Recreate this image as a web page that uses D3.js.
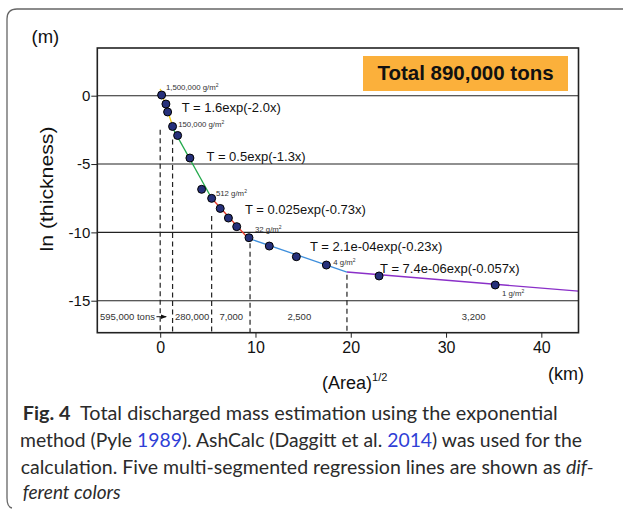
<!DOCTYPE html>
<html>
<head>
<meta charset="utf-8">
<script src="https://cdn.jsdelivr.net/npm/d3@7"></script>
<style>
  body { margin: 0; background: #fff; }
  svg { display: block; }
  .axis text { font-family: "Liberation Sans", Arial, sans-serif; fill: #111; }
  .axis line { stroke: #222; stroke-width: 1; }
</style>
</head>
<body>
<div id="chart"></div>
<script>
// sampled points, (Area)^1/2 in km vs ln(thickness in m)
var sqrtArea = [0.15, 0.6, 0.78, 1.3, 1.83, 3.12, 4.35, 5.4, 6.3, 7.16, 8.03, 9.32, 11.45, 14.29, 17.44, 22.97, 35.16];
var lnThick  = [0.05, -0.61, -1.19, -2.25, -2.91, -4.56, -6.85, -7.51, -8.25, -8.95, -9.58, -10.39, -11.0, -11.78, -12.39, -13.19, -13.85];

// regression segments (end points)
var segNames = ["T = 1.6exp(-2.0x)", "T = 0.5exp(-1.3x)", "T = 0.025exp(-0.73x)", "T = 2.1e-04exp(-0.23x)", "T = 7.4e-06exp(-0.057x)"];
var segX0 = [0, 1.3, 5.4, 9.32, 19.6];
var segX1 = [1.3, 5.4, 9.32, 19.6, 43.9];
var segY0 = [0.5, -2.35, -7.5, -10.45, -12.9];
var segY1 = [-2.2, -7.5, -10.5, -12.9, -14.3];
var segColors = ["#f2cd13", "#22a94b", "#e63a2c", "#3f8fdc", "#8a2fc8"];
// where each equation label sits (data units)
var eqX = [2.25, 4.87, 8.9, 15.72, 23.08];
var eqY = [-1.16, -4.78, -8.65, -11.36, -12.95];

// isopach breaks (dashed verticals) and where they start
var breakX = [0, 1.3, 5.4, 9.43, 19.6];
var breakTop = [-2.5, -3.2, -8.8, -10.8, -13.1];

// mass in each zone
var massLabels = ["595,000 tons", "280,000", "7,000", "2,500", "3,200"];
var massX = [-0.55, 3.36, 7.46, 14.6, 32.9];

// thickness annotations on points
var ptLabelIdx = [0, 3, 7, 11, 14, 16];
var ptLabels = ["1,500,000", "150,000", "512", "32", "4", "1"];
var ptLabelOff = [[4.3, -5.5], [5.6, 0.5], [4.3, -2.8], [6, -5.7], [7, -0.5], [6.7, 11.5]];

var xTicks = [0, 10, 20, 30, 40];
var yTicks = [0, -5, -10, -15];

var W = 626, H = 511;
var margin = {top: 48, right: 47.5, bottom: 178.3, left: 97.3},
    width = W - margin.left - margin.right,
    height = H - margin.top - margin.bottom;

var svg = d3.select("#chart").append("svg")
    .attr("width", W)
    .attr("height", H);

// outer figure frame
svg.append("path")
   .attr("d", "M623,9 L17,9 Q7,9 7,19 L7,498 Q7,507 12,508")
   .attr("fill", "none")
   .attr("stroke", "#666")
   .attr("stroke-width", 1.3);

var xScale = d3.scaleLinear().domain([-6.6, 43.9]).range([0, width]),
    yScale = d3.scaleLinear().domain([-17.34, 3.49]).range([height, 0]);

var g = svg.append("g")
    .attr("transform", "translate(" + margin.left + "," + margin.top + ")");

// horizontal grid lines
g.selectAll(".grid")
  .data(yTicks)
  .enter().append("line")
    .attr("x1", 0).attr("x2", width)
    .attr("y1", function (d) { return yScale(d); })
    .attr("y2", function (d) { return yScale(d); })
    .attr("stroke", "#222")
    .attr("stroke-width", 1.1);

// dashed break lines
g.selectAll(".brk")
  .data(breakX)
  .enter().append("line")
    .attr("x1", function (d) { return xScale(d); })
    .attr("x2", function (d) { return xScale(d); })
    .attr("y1", function (d, i) { return yScale(breakTop[i]); })
    .attr("y2", height)
    .attr("stroke", "#222")
    .attr("stroke-width", 1.2)
    .attr("stroke-dasharray", "5,3.5");

// regression segments
g.selectAll(".seg")
  .data(segNames)
  .enter().append("line")
    .attr("x1", function (d, i) { return xScale(segX0[i]); })
    .attr("y1", function (d, i) { return yScale(segY0[i]); })
    .attr("x2", function (d, i) { return xScale(segX1[i]); })
    .attr("y2", function (d, i) { return yScale(segY1[i]); })
    .attr("stroke", function (d, i) { return segColors[i]; })
    .attr("stroke-width", 1.3);

// points
g.selectAll(".pt")
  .data(sqrtArea)
  .enter().append("circle")
    .attr("cx", function (d) { return xScale(d); })
    .attr("cy", function (d, i) { return yScale(lnThick[i]); })
    .attr("r", 4)
    .attr("fill", "#26307a")
    .attr("stroke", "#000")
    .attr("stroke-width", 1);

// equation labels
g.selectAll(".eq")
  .data(segNames)
  .enter().append("text")
    .attr("x", function (d, i) { return xScale(eqX[i]); })
    .attr("y", function (d, i) { return yScale(eqY[i]); })
    .style("font-family", "'Liberation Sans', Arial, sans-serif")
    .style("font-size", "13px")
    .style("fill", "#111")
    .text(function (d) { return d; });

// g/m2 labels
var pl = g.selectAll(".pl")
  .data(ptLabels)
  .enter().append("text")
    .attr("x", function (d, i) { return xScale(sqrtArea[ptLabelIdx[i]]) + ptLabelOff[i][0]; })
    .attr("y", function (d, i) { return yScale(lnThick[ptLabelIdx[i]]) + ptLabelOff[i][1]; })
    .style("font-family", "'Liberation Sans', Arial, sans-serif")
    .style("font-size", "7.8px")
    .style("fill", "#333");
pl.append("tspan").text(function (d) { return d + " g/m"; });
pl.append("tspan").attr("dy", -3).style("font-size", "5px").text("2");

// mass strip labels
var stripY = (yScale(-15) + height) / 2;
g.selectAll(".mass")
  .data(massLabels)
  .enter().append("text")
    .attr("x", function (d, i) { return xScale(massX[i]); })
    .attr("y", stripY)
    .attr("dy", "0.35em")
    .attr("text-anchor", function (d, i) { return i === 0 ? "end" : "middle"; })
    .style("font-family", "'Liberation Sans', Arial, sans-serif")
    .style("font-size", "9.5px")
    .style("fill", "#333")
    .text(function (d) { return d; });

svg.append("defs").append("marker")
   .attr("id", "arr")
   .attr("viewBox", "0 0 10 10")
   .attr("refX", 9).attr("refY", 5)
   .attr("markerWidth", 6).attr("markerHeight", 6)
   .attr("orient", "auto")
 .append("path")
   .attr("d", "M0,1 L10,5 L0,9 Z")
   .attr("fill", "#111");

g.append("line")
  .attr("x1", xScale(massX[0]) + 1.5)
  .attr("x2", xScale(0) + 6)
  .attr("y1", stripY).attr("y2", stripY)
  .attr("stroke", "#111")
  .attr("stroke-width", 1)
  .attr("marker-end", "url(#arr)");

// axes
var yAxis = d3.axisLeft(yScale).tickValues(yTicks).tickSize(6).tickPadding(1)
    .tickFormat(function (d) { return String(d); });
g.append("g")
  .attr("class", "axis")
  .call(yAxis)
  .call(function (a) { a.select(".domain").remove(); })
  .selectAll("text").style("font-size", "15px");

var xAxis = d3.axisBottom(xScale).tickValues(xTicks).tickSize(5).tickPadding(3.6);
g.append("g")
  .attr("class", "axis")
  .attr("transform", "translate(0," + height + ")")
  .call(xAxis)
  .call(function (a) { a.select(".domain").remove(); })
  .selectAll("text").style("font-size", "16px");

// plot frame
g.append("rect")
  .attr("width", width).attr("height", height)
  .attr("fill", "none")
  .attr("stroke", "#222")
  .attr("stroke-width", 1.6);

// total box
g.append("rect")
  .attr("x", 363 - margin.left).attr("y", 56 - margin.top)
  .attr("width", 205).attr("height", 35)
  .attr("fill", "#fbb03b");
g.append("text")
  .attr("x", 465.5 - margin.left).attr("y", 80 - margin.top)
  .attr("text-anchor", "middle")
  .style("font-family", "'Liberation Sans', Arial, sans-serif")
  .style("font-weight", "bold")
  .style("font-size", "20.5px")
  .style("fill", "#111")
  .text("Total 890,000 tons");

// axis titles
var lab = "'Liberation Sans', Arial, sans-serif";
svg.append("text")
  .attr("x", 31.5).attr("y", 42.5)
  .style("font-family", lab).style("font-size", "18.5px").style("fill", "#111")
  .text("(m)");
svg.append("text")
  .attr("transform", "translate(53.3,189) rotate(-90)")
  .attr("text-anchor", "middle")
  .attr("textLength", 125).attr("lengthAdjust", "spacingAndGlyphs")
  .style("font-family", lab).style("font-size", "18px").style("fill", "#111")
  .text("ln (thickness)");
var xt = svg.append("text")
  .attr("x", 322).attr("y", 389)
  .style("font-family", lab).style("font-size", "18px").style("fill", "#111");
xt.append("tspan").text("(Area)");
xt.append("tspan").attr("dy", -8).style("font-size", "11px").text("1/2");
svg.append("text")
  .attr("x", 548).attr("y", 380)
  .style("font-family", lab).style("font-size", "18px").style("fill", "#111")
  .text("(km)");

// caption
var capFont = "Lato, 'Noto Sans', sans-serif";
var capLines = [
  {y: 420, x: 22.7, len: 535, parts: [["Fig. 4", "b"], ["  Total discharged mass estimation using the exponential", ""]]},
  {y: 447.3, x: 20, len: 562, parts: [["method (Pyle ", ""], ["1989", "l"], ["). AshCalc (Daggitt et al. ", ""], ["2014", "l"], [") was used for the", ""]]},
  {y: 474, x: 20.7, len: 573, parts: [["calculation. Five multi-segmented regression lines are shown as ", ""], ["dif-", "i"]]},
  {y: 499.3, x: 22.7, len: 98, parts: [["ferent colors", "i"]]}
];
capLines.forEach(function (ln) {
  var t = svg.append("text")
    .attr("x", ln.x).attr("y", ln.y)
    .attr("textLength", ln.len).attr("lengthAdjust", "spacingAndGlyphs")
    .attr("xml:space", "preserve")
    .style("font-family", capFont)
    .style("font-size", "19.5px")
    .style("fill", "#2b2b2b");
  ln.parts.forEach(function (p) {
    t.append("tspan")
      .style("font-weight", p[1] === "b" ? "bold" : "normal")
      .style("font-style", p[1] === "i" ? "italic" : "normal")
      .style("fill", p[1] === "l" ? "#2f3fd6" : null)
      .text(p[0]);
  });
});
</script>
</body>
</html>
